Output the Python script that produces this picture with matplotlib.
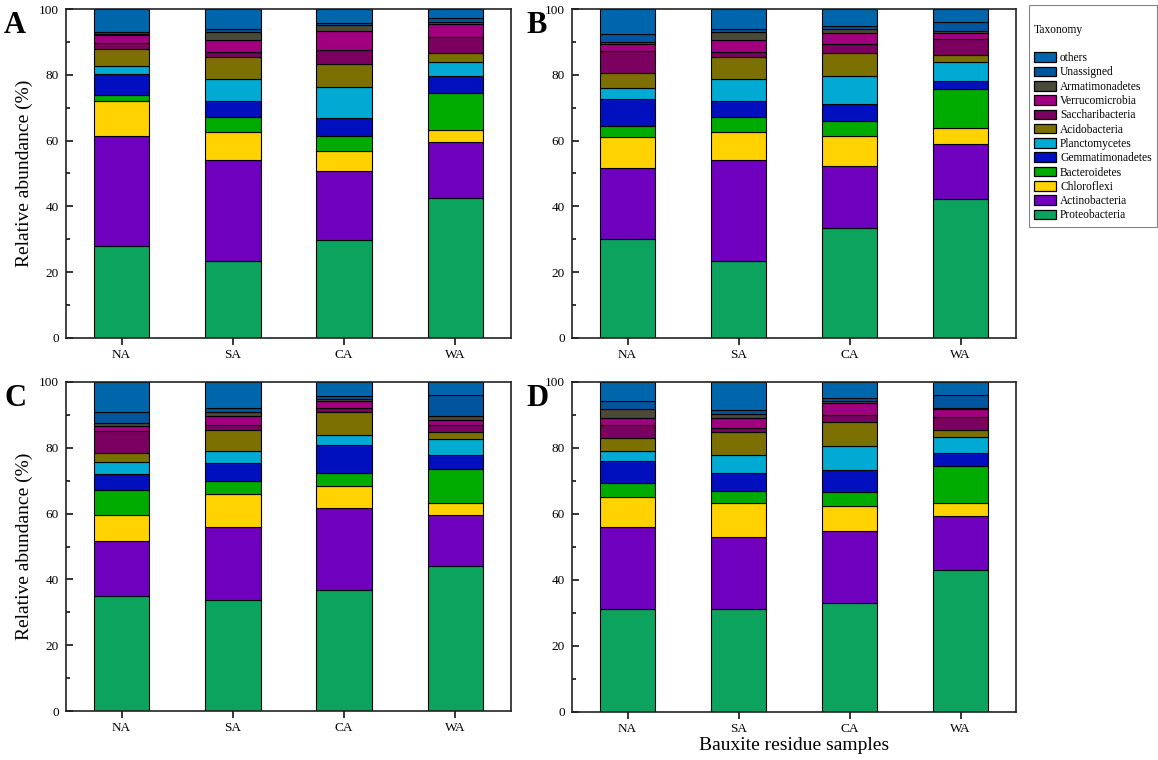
import numpy as np
import matplotlib.pyplot as plt
from matplotlib.patches import Patch

plt.rcParams['font.family'] = ['Liberation Serif', 'DejaVu Serif']

samples = ['NA', 'SA', 'CA', 'WA']
# stacked from bottom to top
taxa = ['Proteobacteria', 'Actinobacteria', 'Chloroflexi', 'Bacteroidetes',
        'Gemmatimonadetes', 'Planctomycetes', 'Acidobacteria', 'Saccharibacteria',
        'Verrucomicrobia', 'Armatimonadetes', 'Unassigned', 'others']
colors = ['#0ca35f', '#6f00bd', '#ffd200', '#00ab00', '#0010bf', '#00aad2',
          '#7b7000', '#7b005f', '#a0007f', '#4a4a3a', '#00559f', '#0066ab']

# relative abundance (%), one row per sample (NA, SA, CA, WA), columns follow taxa
abund_A = np.array([
    [28.0, 33.4, 10.5, 1.9, 6.3, 2.7, 5.1, 1.8, 2.3, 0.3, 0.6, 7.1],
    [23.4, 30.6, 8.5, 4.6, 4.9, 6.8, 6.7, 1.3, 3.7, 2.4, 0.9, 6.2],
    [29.9, 21.0, 5.9, 4.7, 5.3, 9.4, 7.0, 4.2, 6.0, 1.6, 0.8, 4.2],
    [42.5, 17.2, 3.4, 11.4, 5.0, 4.4, 2.6, 5.1, 3.9, 0.6, 1.1, 2.8],
])
abund_B = np.array([
    [30.0, 21.8, 9.3, 3.3, 8.2, 3.5, 4.3, 6.8, 2.3, 0.6, 2.4, 7.5],
    [23.4, 30.6, 8.5, 4.6, 4.9, 6.8, 6.7, 1.3, 3.7, 2.4, 0.9, 6.2],
    [33.3, 19.1, 9.1, 4.4, 5.1, 8.5, 7.2, 2.7, 3.4, 1.2, 0.8, 5.2],
    [42.3, 16.7, 4.7, 12.1, 2.3, 5.7, 2.1, 5.0, 1.7, 0.6, 3.0, 3.8],
])
abund_C = np.array([
    [34.9, 16.7, 8.0, 7.6, 4.9, 3.6, 2.7, 6.6, 1.6, 1.0, 3.3, 9.1],
    [33.6, 22.3, 10.1, 4.0, 5.5, 3.6, 6.3, 1.6, 2.7, 1.3, 1.2, 7.8],
    [36.9, 24.7, 6.8, 3.8, 8.6, 3.1, 6.9, 1.3, 2.1, 0.7, 0.7, 4.4],
    [44.2, 15.4, 3.7, 10.2, 4.4, 4.8, 2.1, 2.0, 1.5, 1.5, 6.2, 4.0],
])
abund_D = np.array([
    [31.2, 24.8, 9.1, 4.4, 6.6, 2.9, 4.0, 4.1, 2.1, 2.5, 2.4, 5.9],
    [31.1, 21.9, 10.2, 3.8, 5.3, 5.7, 6.7, 1.4, 3.1, 1.2, 1.0, 8.6],
    [33.1, 21.7, 7.6, 4.4, 6.5, 7.2, 7.3, 2.3, 3.4, 0.7, 0.9, 4.9],
    [43.0, 16.5, 3.9, 11.1, 4.0, 4.8, 2.3, 3.8, 2.5, 0.3, 3.8, 4.0],
])

W, H = 1158, 760
fig = plt.figure(figsize=(W / 100, H / 100), dpi=100)

# panel boxes in pixels: left, top, right, bottom
boxes = {'A': (66, 9, 511, 338), 'B': (572, 9, 1016, 338),
         'C': (66, 382, 511, 711), 'D': (572, 382, 1016, 712)}
data = {'A': abund_A, 'B': abund_B, 'C': abund_C, 'D': abund_D}

x = np.arange(1, len(samples) + 1)
for name, (l, t, r, b) in boxes.items():
    ax = fig.add_axes([l / W, 1 - b / H, (r - l) / W, (b - t) / H])
    vals = data[name]
    bottom = np.zeros(len(samples))
    for j, tax in enumerate(taxa):
        ax.bar(x, vals[:, j], width=0.5, bottom=bottom, color=colors[j],
               edgecolor='black', linewidth=0.8, zorder=2)
        bottom += vals[:, j]
    ax.set_xlim(0.5, 4.5)
    ax.set_ylim(0, 100)
    ax.set_xticks(x)
    ax.set_xticklabels(samples)
    ax.set_yticks(np.arange(0, 101, 20))
    ax.set_yticks(np.arange(10, 100, 20), minor=True)
    ax.tick_params(axis='y', which='major', direction='in', length=5, width=1.1,
                   labelsize=9.5, pad=5)
    ax.tick_params(axis='y', which='minor', direction='in', length=3, width=1.1)
    ax.tick_params(axis='x', which='major', direction='out', length=5, width=1.1,
                   labelsize=9.5, pad=3)
    for sp in ax.spines.values():
        sp.set_linewidth(1.2)
        sp.set_color('#222222')
    if name in ('A', 'C'):
        ax.set_ylabel('Relative abundance (%)', fontsize=14)
        ax.yaxis.set_label_coords(-0.075, 0.5)
    if name == 'D':
        ax.set_xlabel('Bauxite residue samples', fontsize=14, labelpad=1)
    lx = 4 if name in ('A', 'C') else 526
    fig.text(lx / W, 1 - (t + 2) / H, name, fontsize=22, fontweight='bold',
             va='top', ha='left')

handles = [Patch(facecolor=c, edgecolor='black', linewidth=0.9) for c in colors]
leg = fig.legend(handles[::-1], taxa[::-1], loc='upper left',
                 bbox_to_anchor=(1029 / W, 1 - 5 / H), title='\nTaxonomy\n',
                 alignment='left', fontsize=8.3, title_fontsize=8.3,
                 frameon=True, fancybox=False, edgecolor='#666666',
                 handlelength=1.9, handleheight=0.9, labelspacing=0.2,
                 handletextpad=0.35, borderpad=0.45, borderaxespad=0)
leg.get_frame().set_linewidth(0.8)

fig.savefig('out.png', dpi=100)
